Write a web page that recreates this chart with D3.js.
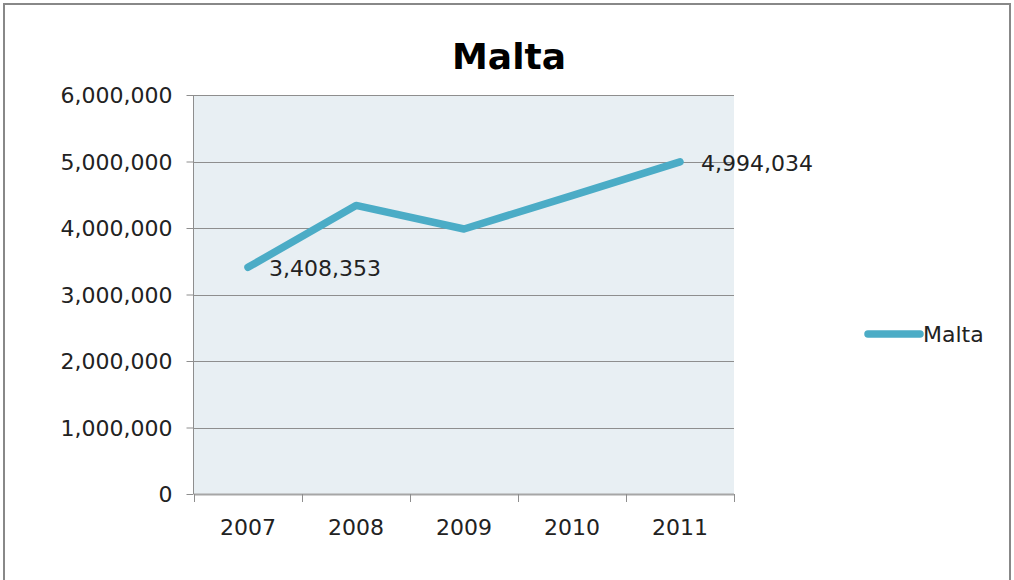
<!DOCTYPE html>
<html>
<head>
<meta charset="utf-8">
<script src="https://cdn.jsdelivr.net/npm/d3@7"></script>
<style>
  html, body { margin: 0; padding: 0; background: #fff; }
  svg { display: block; }
  text { font-family: "DejaVu Sans", sans-serif; fill: #222; }
</style>
</head>
<body>
<svg id="chart" width="1014" height="580"></svg>
<script>
// Visitor numbers for Malta, 2007–2011
const years = ["2007", "2008", "2009", "2010", "2011"];
const values = [3408353, 4340000, 3985000, 4488000, 4994034];
const yTicks = [0, 1000000, 2000000, 3000000, 4000000, 5000000, 6000000];
const labelledYears = ["2007", "2011"];
const seriesName = "Malta";

const W = 1014, H = 580;
const plot = { left: 194, right: 734, top: 95, bottom: 494 };
const lineColor = "#4BACC6";
const labelSize = "22px";

const svg = d3.select("#chart");

// outer frame
svg.append("rect")
  .attr("x", 4).attr("y", 4)
  .attr("width", W - 8).attr("height", H + 10)
  .attr("fill", "#fff").attr("stroke", "#888").attr("stroke-width", 2);

const x = d3.scaleBand().domain(years).range([plot.left, plot.right]);
const y = d3.scaleLinear().domain([0, 6000000]).range([plot.bottom, plot.top]);
const fmt = d3.format(",");

// plot background
svg.append("rect")
  .attr("x", plot.left).attr("y", plot.top)
  .attr("width", plot.right - plot.left).attr("height", plot.bottom - plot.top)
  .attr("fill", "#E8EFF3");

// horizontal gridlines
svg.append("g")
  .selectAll("line")
  .data(yTicks.filter(t => t > 0))
  .join("line")
  .attr("x1", plot.left).attr("x2", plot.right)
  .attr("y1", d => Math.round(y(d)) + 0.5).attr("y2", d => Math.round(y(d)) + 0.5)
  .attr("stroke", "#8E8E8E").attr("stroke-width", 1);

// y axis
const yAxis = svg.append("g")
  .attr("transform", `translate(${plot.left - 0.5},0)`)
  .call(d3.axisLeft(y).tickValues(yTicks).tickFormat(fmt).tickSize(7).tickPadding(14));
yAxis.select(".domain").attr("stroke", "#8E8E8E").attr("d", `M0,${plot.top}V${plot.bottom}`);
yAxis.selectAll(".tick line").attr("stroke", "#8E8E8E");
yAxis.selectAll(".tick text")
  .style("font-family", "'DejaVu Sans', sans-serif")
  .style("font-size", labelSize).attr("fill", "#222").attr("dy", "0.36em");

// x axis with ticks between categories
const boundaries = years.map(d => x(d)).concat([x(years[years.length - 1]) + x.bandwidth()]);
const xg = svg.append("g");
xg.append("line")
  .attr("x1", plot.left).attr("x2", plot.right)
  .attr("y1", plot.bottom + 0.5).attr("y2", plot.bottom + 0.5)
  .attr("stroke", "#A6A6A6").attr("stroke-width", 2);
xg.selectAll("line.tk")
  .data(boundaries)
  .join("line").attr("class", "tk")
  .attr("x1", d => Math.round(d) + 0.5).attr("x2", d => Math.round(d) + 0.5)
  .attr("y1", plot.bottom).attr("y2", plot.bottom + 8)
  .attr("stroke", "#8E8E8E");
xg.selectAll("text")
  .data(years)
  .join("text")
  .attr("x", d => x(d) + x.bandwidth() / 2)
  .attr("y", 535)
  .attr("text-anchor", "middle")
  .style("font-size", labelSize)
  .text(d => d);

// series line
const points = years.map((yr, i) => ({ yr, v: values[i] }));
const line = d3.line()
  .x(d => x(d.yr) + x.bandwidth() / 2)
  .y(d => y(d.v));
svg.append("path")
  .datum(points)
  .attr("d", line)
  .attr("fill", "none")
  .attr("stroke", lineColor)
  .attr("stroke-width", 7.5)
  .attr("stroke-linecap", "round")
  .attr("stroke-linejoin", "round");

// value labels
svg.append("g")
  .selectAll("text")
  .data(points.filter(p => labelledYears.includes(p.yr)))
  .join("text")
  .attr("x", d => x(d.yr) + x.bandwidth() / 2 + 21)
  .attr("y", d => y(d.v) + 9)
  .style("font-size", labelSize)
  .text(d => fmt(d.v));

// title
svg.append("text")
  .attr("x", 509).attr("y", 69)
  .attr("text-anchor", "middle")
  .style("font-family", "'DejaVu Sans', sans-serif")
  .style("font-weight", "bold")
  .style("font-size", "36px")
  .style("fill", "#000")
  .text(seriesName);

// legend
const lg = svg.append("g").attr("transform", "translate(866,334)");
lg.append("line")
  .attr("x1", 2).attr("x2", 54).attr("y1", 0).attr("y2", 0)
  .attr("stroke", lineColor).attr("stroke-width", 7.5).attr("stroke-linecap", "round");
lg.append("text")
  .attr("x", 57).attr("y", 8)
  .style("font-size", labelSize)
  .text(seriesName);
</script>
</body>
</html>
